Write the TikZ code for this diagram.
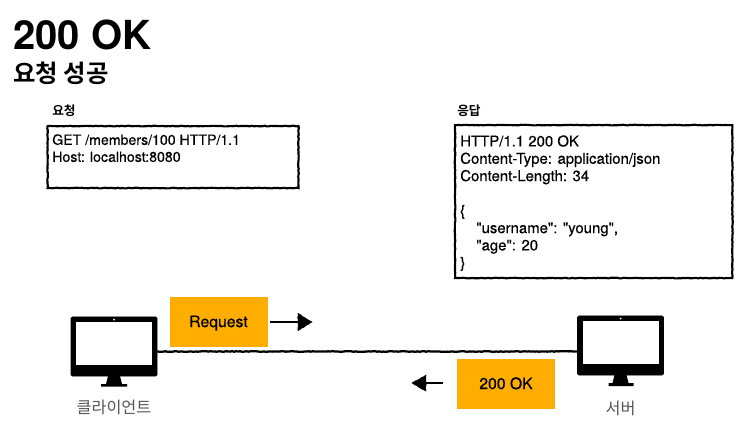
\documentclass[tikz,border=0pt]{standalone}
\usepackage{fontspec}
\setmainfont{TeX Gyre Heros}
\newfontfamily\httpfont[FakeBold=0.35]{TeX Gyre Heros}
\newfontfamily\krfont{Noto Sans CJK KR}
\newfontfamily\krbold{Noto Sans CJK KR Bold}
\usetikzlibrary{calc,positioning,arrows.meta,decorations.pathmorphing}
\definecolor{msgorange}{RGB}{255,174,0}
\definecolor{labelgray}{RGB}{85,85,85}
\tikzset{
  rough/.style={decorate,decoration={random steps,segment length=1.6pt,amplitude=0.25pt}},
  msgbox/.style={draw=msgorange,fill=msgorange,minimum width=72.5pt,minimum height=36.5pt,inner sep=0pt,text height=8.4pt,text depth=0pt,font=\httpfont\fontsize{11.8}{13}\selectfont},
  httpbox/.style={draw=black,line width=1.6pt,rough,inner sep=0pt,anchor=north west},
  httptext/.style={anchor=north west,inner sep=0pt,align=left},
  wire/.style={line width=1.7pt,rough},
  flow/.style={line width=1.5pt},
  flowhead/.style={fill=black,draw=black,line width=0.4pt,rough},
  pclabel/.style={text=labelgray,font=\krfont\fontsize{12.2}{14}\selectfont,inner sep=0pt}
}
\pgfmathsetseed{7}
\begin{document}
\begin{tikzpicture}[x=0.75pt,y=-0.75pt]
\useasboundingbox (0,0) rectangle (750,436);

\node[anchor=base west,inner sep=0pt,font=\bfseries\fontsize{30}{32}\selectfont] (title) at (13,49) {200 OK};
\node[anchor=base west,inner sep=0pt,font=\krbold\fontsize{18.3}{20}\selectfont] (subtitle) at (13,82) {요청 성공};

\node[anchor=base west,inner sep=0pt,font=\krbold\fontsize{9.5}{11}\selectfont] (reqlabel) at (52,115) {요청};
\node[anchor=base west,inner sep=0pt,font=\krbold\fontsize{9.5}{11}\selectfont] (reslabel) at (457,115) {응답};

\node[httpbox,minimum width=188.2pt,minimum height=46.5pt] (reqbox) at (46.5,125) {};
\node[httpbox,minimum width=208pt,minimum height=114.75pt] (resbox) at (454,124) {};

\node[httptext,font=\httpfont\fontsize{10.6}{12.75}\selectfont] (reqtext) at (52,134) {GET /members/100 HTTP/1.1\\Host: localhost:8080};
\node[httptext,font=\httpfont\fontsize{11.2}{13}\selectfont] (restext) at (460,135) {HTTP/1.1 200 OK\\Content-Type: application/json\\Content-Length: 34\\[13pt]\{\\\hspace*{12pt}"username": "young",\\\hspace*{12pt}"age": 20\\\}};

% client monitor
\node[draw=black,fill=black,rounded corners=1pt,minimum width=64.5pt,minimum height=44.5pt,inner sep=0pt] (client) at (114,346.5) {};
\node[fill=white,minimum width=57pt,minimum height=32pt,inner sep=0pt] (clientscreen) at (114,343.5) {};
\fill[black] (108,376) -- (120,376) -- (122,384) -- (127,384) -- (127,386.5) -- (101,386.5) -- (101,384) -- (106,384) -- cycle;
\fill[white] (114,319.5) circle (1);
\node[pclabel] (clientlabel) at (114,407.5) {클라이언트};

% server monitor
\node[draw=black,fill=black,rounded corners=1pt,minimum width=64.5pt,minimum height=44.5pt,inner sep=0pt] (server) at (620.5,345.5) {};
\node[fill=white,minimum width=57pt,minimum height=32pt,inner sep=0pt] (serverscreen) at (620.5,342.5) {};
\fill[black] (614.5,375) -- (626.5,375) -- (628.5,383) -- (633.5,383) -- (633.5,386) -- (608.5,386) -- (608.5,383) -- (612.5,383) -- cycle;
\fill[white] (620.5,318.5) circle (1);
\node[pclabel] (serverlabel) at (620.5,408) {서버};

\coordinate (wirel) at (client.east |- 0,351.5);
\coordinate (wirer) at (server.west |- 0,351.5);
\draw[wire] (wirel) -- (wirer);

\node[msgbox] (request) at (218.5,321.5) {Request};
\node[msgbox] (ok) at (506,383.5) {200 OK};

% arrows
\coordinate (reqtip) at (312,322);
\coordinate (oktip) at (412,383);
\draw[flow] ($(request.east)+(3,0.5)$) -- ($(reqtip)+(-13,0)$);
\draw[flowhead] (reqtip) -- ++(-14,-8.5) -- ++(0,17) -- cycle;
\draw[flow] ($(ok.west)+(-14,-0.5)$) -- ($(oktip)+(13,0)$);
\draw[flowhead] (oktip) -- ++(14,-8) -- ++(0,16) -- cycle;
\end{tikzpicture}
\end{document}
